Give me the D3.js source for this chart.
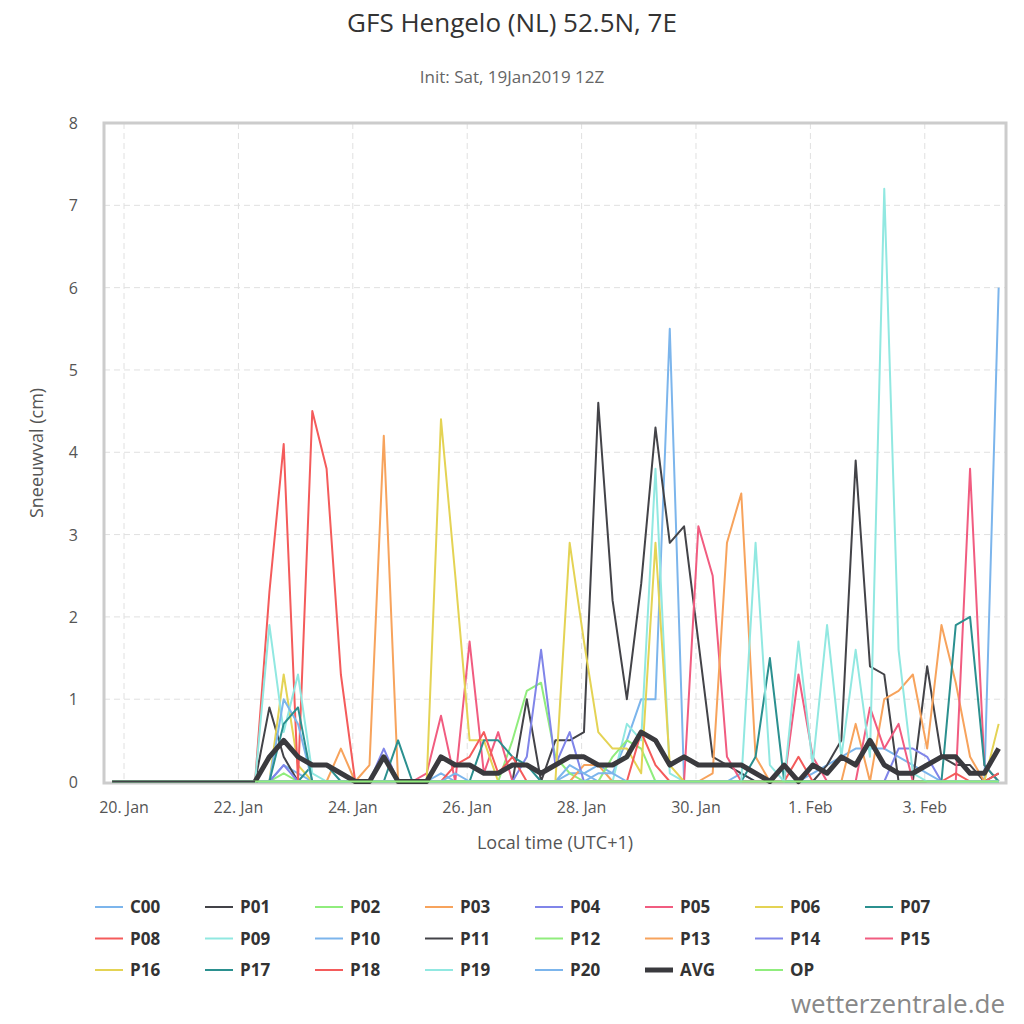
<!DOCTYPE html>
<html>
<head>
<meta charset="utf-8">
<script src="https://cdn.jsdelivr.net/npm/d3@7"></script>
<style>
  body { margin: 0; background: #fff; font-family: "Open Sans", "DejaVu Sans", sans-serif; }
</style>
</head>
<body>
<svg id="chart" width="1024" height="1024"></svg>
<script>
// 6-hourly steps, first step = 19 Jan 19:00 local (days since 20 Jan 00:00)
var startDay = -5 / 24, stepDay = 0.25;
var tickDays = [0, 2, 4, 6, 8, 10, 12, 14];
var tickLabels = ["20. Jan", "22. Jan", "24. Jan", "26. Jan", "28. Jan", "30. Jan", "1. Feb", "3. Feb"];
var yTicks = [0, 1, 2, 3, 4, 5, 6, 7, 8];

var names = ["C00","P01","P02","P03","P04","P05","P06","P07","P08","P09","P10","P11","P12","P13","P14","P15","P16","P17","P18","P19","P20","AVG","OP"];
var palette = ["#7cb5ec","#434348","#90ed7d","#f7a35c","#8085e9","#f15c80","#e4d354","#2b908f","#f45b5b","#91e8e1"];

var C00 = [0,0,0,0,0,0,0,0,0,0, 0,0,0.2,0.1,0,0,0,0,0,0, 0,0,0,0.1,0,0,0,0,0,0, 0,0,0.1,0.1,0.2,0.1,0.5,1.0,1.0,5.5, 0,0,0,0,0.1,0,0,0.2,0,0.1, 0.2,0.3,0.4,0.4,0.4,0.3,0.2,0.1,0,0, 0,0,6.0];
var P01 = [0,0,0,0,0,0,0,0,0,0, 0,0.9,0.3,0,0,0,0,0,0,0, 0,0,0,0,0,0,0,0,0,1.0, 0,0.5,0.5,0.6,4.6,2.2,1.0,2.4,4.3,2.9, 3.1,1.7,0.3,0.2,0.1,0,0,0,0,0, 0,0,0,0,0,0,0,0,0,0, 0,0,0];
var P02 = [0,0,0,0,0,0,0,0,0,0, 0,0,0.1,0,0,0,0,0,0,0, 0,0,0,0,0,0,0,0,0.5,1.1, 1.2,0.3,0.1,0,0,0,0,0,0,0, 0,0,0,0,0,0,0,0,0,0, 0,0,0,0,0,0,0,0,0,0, 0,0,0];
var P03 = [0,0,0,0,0,0,0,0,0,0, 0,0,0,0,0,0,0.4,0,0.2,4.2, 0,0,0,0,0,0,0,0,0,0, 0,0,0,0.2,0.2,0,0,0,0,0, 0,0,0,0,0,0,0,0,0,0, 0,0,0,0,0,0,0,0,0,0, 0,0,0];
var P04 = [0,0,0,0,0,0,0,0,0,0, 0,0,0.2,0,0,0,0,0,0,0.4, 0,0,0,0,0,0,0,0,0,0.3, 1.6,0.2,0.6,0,0,0,0,0,0,0, 0,0,0,0,0,0,0,0,0,0, 0,0,0,0,0,0,0,0,0,0, 0,0,0];
var P05 = [0,0,0,0,0,0,0,0,0,0, 0,0,0,0,0,0,0,0,0,0, 0,0,0.1,0.8,0,1.7,0.1,0.6,0,0, 0,0,0,0,0,0,0,0,0,0, 0,3.1,2.5,0.3,0,0,0,0,0,0, 0,0,0,0,0,0,0,0,0,0, 0,0,0];
var P06 = [0,0,0,0,0,0,0,0,0,0, 0,0,1.3,0.2,0,0,0,0,0,0, 0,0,0,4.4,2.5,0.5,0.5,0,0,0, 0,0,0,0,0,0,0,0,0,0, 0,0,0,0,0,0,0,0,0,0, 0,0,0,0,0,0,0,0,0,0, 0,0,0];
var P07 = [0,0,0,0,0,0,0,0,0,0, 0,0,0,0,0.2,0.2,0,0,0,0, 0.5,0,0,0,0,0,0.5,0.5,0.3,0.2, 0,0,0,0,0,0,0,0,0,0, 0,0,0,0,0,0,0,0,0,0, 0,0,0,0,0,0,0,0,0,0, 0,0,0];
var P08 = [0,0,0,0,0,0,0,0,0,0, 0,2.3,4.1,0,4.5,3.8,1.3,0,0,0, 0,0,0,0,0,0,0,0,0,0, 0,0,0,0,0,0,0,0,0,0, 0,0,0,0,0,0,0,0,0,0, 0,0,0,0,0,0,0,0,0,0, 0,0,0];
var P09 = [0,0,0,0,0,0,0,0,0,0, 0,1.9,0.6,1.3,0.1,0,0,0,0,0, 0,0,0,0,0,0,0,0,0,0, 0,0,0,0,0,0,0.7,0.5,3.8,0.1, 0,0,0,0,0,0,0,0,0,0, 0,0,0,0,0,0,0,0,0,0, 0,0,0];
var P10 = [0,0,0,0,0,0,0,0,0,0, 0,0,1.0,0.7,0,0,0,0,0,0, 0,0,0,0,0,0,0,0,0,0, 0,0,0.2,0.1,0,0,0,0,0,0, 0,0,0,0,0,0,0,0,0,0, 0,0,0,0,0,0,0,0,0,0, 0,0,0];
var P11 = [0,0,0,0,0,0,0,0,0,0, 0,0,0,0,0,0,0,0,0,0, 0,0,0,0,0,0,0,0,0,0, 0,0,0,0,0,0,0,0,0,0, 0,0,0,0,0,0,0,0,0,0, 0.2,0.5,3.9,1.4,1.3,0,0,1.4,0.3,0.2, 0.2,0,0.1];
var P12 = [0,0,0,0,0,0,0,0,0,0, 0,0,0,0,0,0,0,0,0,0, 0,0,0,0,0,0,0,0,0,0, 0,0,0,0,0,0.3,0.5,0.4,0,0, 0,0,0,0,0,0,0,0,0,0, 0,0,0,0,0,0,0,0,0,0, 0,0,0];
var P13 = [0,0,0,0,0,0,0,0,0,0, 0,0,0,0,0,0,0,0,0,0, 0,0,0,0,0,0,0,0,0,0, 0,0,0,0,0,0,0,0,0,0, 0,0,0.1,2.9,3.5,0.3,0,0,0,0, 0,0,0.7,0,1.0,1.1,1.3,0.4,1.9,1.2, 0.3,0,0];
var P14 = [0,0,0,0,0,0,0,0,0,0, 0,0,0,0,0,0,0,0,0,0, 0,0,0,0,0,0,0,0,0,0, 0,0,0,0,0,0,0,0,0,0, 0,0,0,0,0,0,0,0,0,0, 0,0,0,0,0,0.4,0.4,0.3,0,0, 0,0,0];
var P15 = [0,0,0,0,0,0,0,0,0,0, 0,0,0,0,0,0,0,0,0,0, 0,0,0,0,0,0,0,0,0,0, 0,0,0,0,0,0,0,0,0,0, 0,0,0,0,0,0,0,0,1.3,0.3, 0,0,0,0.9,0.4,0.7,0,0,0,0, 3.8,0.2,0];
var P16 = [0,0,0,0,0,0,0,0,0,0, 0,0,0,0,0,0,0,0,0,0, 0,0,0,0,0,0,0,0,0,0, 0,0,2.9,1.7,0.6,0.4,0.4,0.1,2.9,0.2, 0,0,0,0,0,0,0,0,0,0, 0,0,0,0,0,0,0,0,0,0, 0,0,0.7];
var P17 = [0,0,0,0,0,0,0,0,0,0, 0,0,0.7,0.9,0,0,0,0,0,0, 0,0,0,0,0,0,0,0,0,0, 0,0,0,0,0,0,0,0,0,0, 0,0,0,0,0,0.3,1.5,0,0,0, 0,0,0,0,0,0,0,0,0,1.9, 2.0,0.2,0];
var P18 = [0,0,0,0,0,0,0,0,0,0, 0,0,0,0,0,0,0,0,0,0, 0,0,0,0,0.2,0.3,0.6,0.1,0.3,0, 0,0,0,0,0,0,0,0.6,0.2,0, 0,0,0,0,0,0,0,0,0.3,0, 0,0,0,0,0,0,0,0,0,0.1, 0,0,0.1];
var P19 = [0,0,0,0,0,0,0,0,0,0, 0,0,0,0,0,0,0,0,0,0, 0,0,0,0,0,0,0,0,0,0, 0,0,0,0,0,0,0,0,0,0, 0,0,0,0,0,2.9,0.2,0,1.7,0.2, 1.9,0.3,1.6,0.3,7.2,1.6,0.1,0,0,0, 0,0,0];
var P20 = [0,0,0,0,0,0,0,0,0,0, 0,0,0,0,0,0,0,0,0,0, 0,0,0,0,0.1,0,0,0,0,0, 0,0,0,0,0.1,0.1,0,0,0,0, 0,0,0,0,0,0,0,0,0,0, 0,0,0,0,0,0,0,0,0,0, 0,0,0];
var AVG = [null,null,null,null,null,null,null,null,null,null, 0,0.3,0.5,0.3,0.2,0.2,0.1,0,0,0.3, 0,0,0,0.3,0.2,0.2,0.1,0.1,0.2,0.2, 0.1,0.2,0.3,0.3,0.2,0.2,0.3,0.6,0.5,0.2, 0.3,0.2,0.2,0.2,0.2,0.1,0,0.2,0,0.2, 0.1,0.3,0.2,0.5,0.2,0.1,0.1,0.2,0.3,0.3, 0.1,0.1,0.4];
var OP = [0,0,0,0,0,0,0,0,0,0, 0,0,0,0,0,0,0,0,0,0, 0,0,0,0,0,0,0,0,0,0, 0,0,0,0,0,0,0,0,0,0, 0,0,0,0,0,0,0,0,0,0, 0,0,0,0,0,0,0,0,0,0, 0,0,0];

var values = [C00,P01,P02,P03,P04,P05,P06,P07,P08,P09,P10,P11,P12,P13,P14,P15,P16,P17,P18,P19,P20,AVG,OP];

var svg = d3.select("#chart");
var L = 104, R = 1006, T = 123, B = 783;
var x = d3.scaleLinear().domain([-0.35, 15.42]).range([L, R]);
var y = d3.scaleLinear().domain([0, 8]).range([B - 1.5, T]);

svg.append("text").attr("x", 512).attr("y", 32).attr("text-anchor", "middle")
  .attr("font-size", 26).attr("fill", "#333").text("GFS Hengelo (NL) 52.5N, 7E");
svg.append("text").attr("x", 512).attr("y", 83).attr("text-anchor", "middle")
  .attr("font-size", 17).attr("fill", "#666").text("Init: Sat, 19Jan2019 12Z");

// grid
svg.append("g").selectAll("line").data(yTicks.slice(1)).join("line")
  .attr("x1", L).attr("x2", R).attr("y1", d => y(d)).attr("y2", d => y(d))
  .attr("stroke", "#e0e0e0").attr("stroke-dasharray", "6,4");
svg.append("g").selectAll("line").data(tickDays).join("line")
  .attr("x1", d => x(d)).attr("x2", d => x(d)).attr("y1", T).attr("y2", B)
  .attr("stroke", "#e0e0e0").attr("stroke-dasharray", "6,4");

// frame
svg.append("rect").attr("x", L).attr("y", T).attr("width", R - L).attr("height", B - T)
  .attr("fill", "none").attr("stroke", "#ccc").attr("stroke-width", 3);

// y labels
svg.append("g").selectAll("text").data(yTicks).join("text")
  .attr("x", 78).attr("y", d => y(d) + 6).attr("text-anchor", "end")
  .attr("font-size", 16).attr("fill", "#555").text(d => d);
svg.append("text").attr("transform", "translate(43," + ((T + B) / 2) + ") rotate(-90)")
  .attr("text-anchor", "middle").attr("font-size", 18).attr("fill", "#555").text("Sneeuwval (cm)");

// x labels
svg.append("g").selectAll("text").data(tickDays).join("text")
  .attr("x", d => x(d)).attr("y", 813).attr("text-anchor", "middle")
  .attr("font-size", 16).attr("fill", "#555").text((d, i) => tickLabels[i]);
svg.append("text").attr("x", (L + R) / 2).attr("y", 849).attr("text-anchor", "middle")
  .attr("font-size", 18).attr("fill", "#555").text("Local time (UTC+1)");

function colorOf(i) {
  if (names[i] == "AVG") return "#3a3a3e";
  if (names[i] == "OP") return "#90ed7d";
  return palette[i % 10];
}

var line = d3.line().defined(d => d !== null)
  .x((d, i) => x(startDay + i * stepDay)).y(d => y(d));
var g = svg.append("g");
values.forEach(function (vals, i) {
  g.append("path").attr("d", line(vals)).attr("fill", "none")
    .attr("stroke", colorOf(i)).attr("stroke-width", names[i] == "AVG" ? 5 : 2)
    .attr("stroke-linejoin", "round");
});
// flat start drawn by P01 on top
g.append("path").attr("d", line(P01.slice(0, 11))).attr("fill", "none")
  .attr("stroke", "#434348").attr("stroke-width", 2);

// legend
var lg = svg.append("g");
names.forEach(function (n, i) {
  var cx = 95 + (i % 8) * 110, cy = 907 + Math.floor(i / 8) * 31.5;
  lg.append("line").attr("x1", cx).attr("x2", cx + 28).attr("y1", cy).attr("y2", cy)
    .attr("stroke", colorOf(i)).attr("stroke-width", n == "AVG" ? 5 : 2);
  lg.append("text").attr("x", cx + 35).attr("y", cy + 6).attr("font-size", 17)
    .attr("font-weight", "bold").attr("fill", "#333").text(n);
});

svg.append("text").attr("x", 1005).attr("y", 1013).attr("text-anchor", "end")
  .attr("font-size", 26).attr("fill", "#888").text("wetterzentrale.de");
</script>
</body>
</html>
